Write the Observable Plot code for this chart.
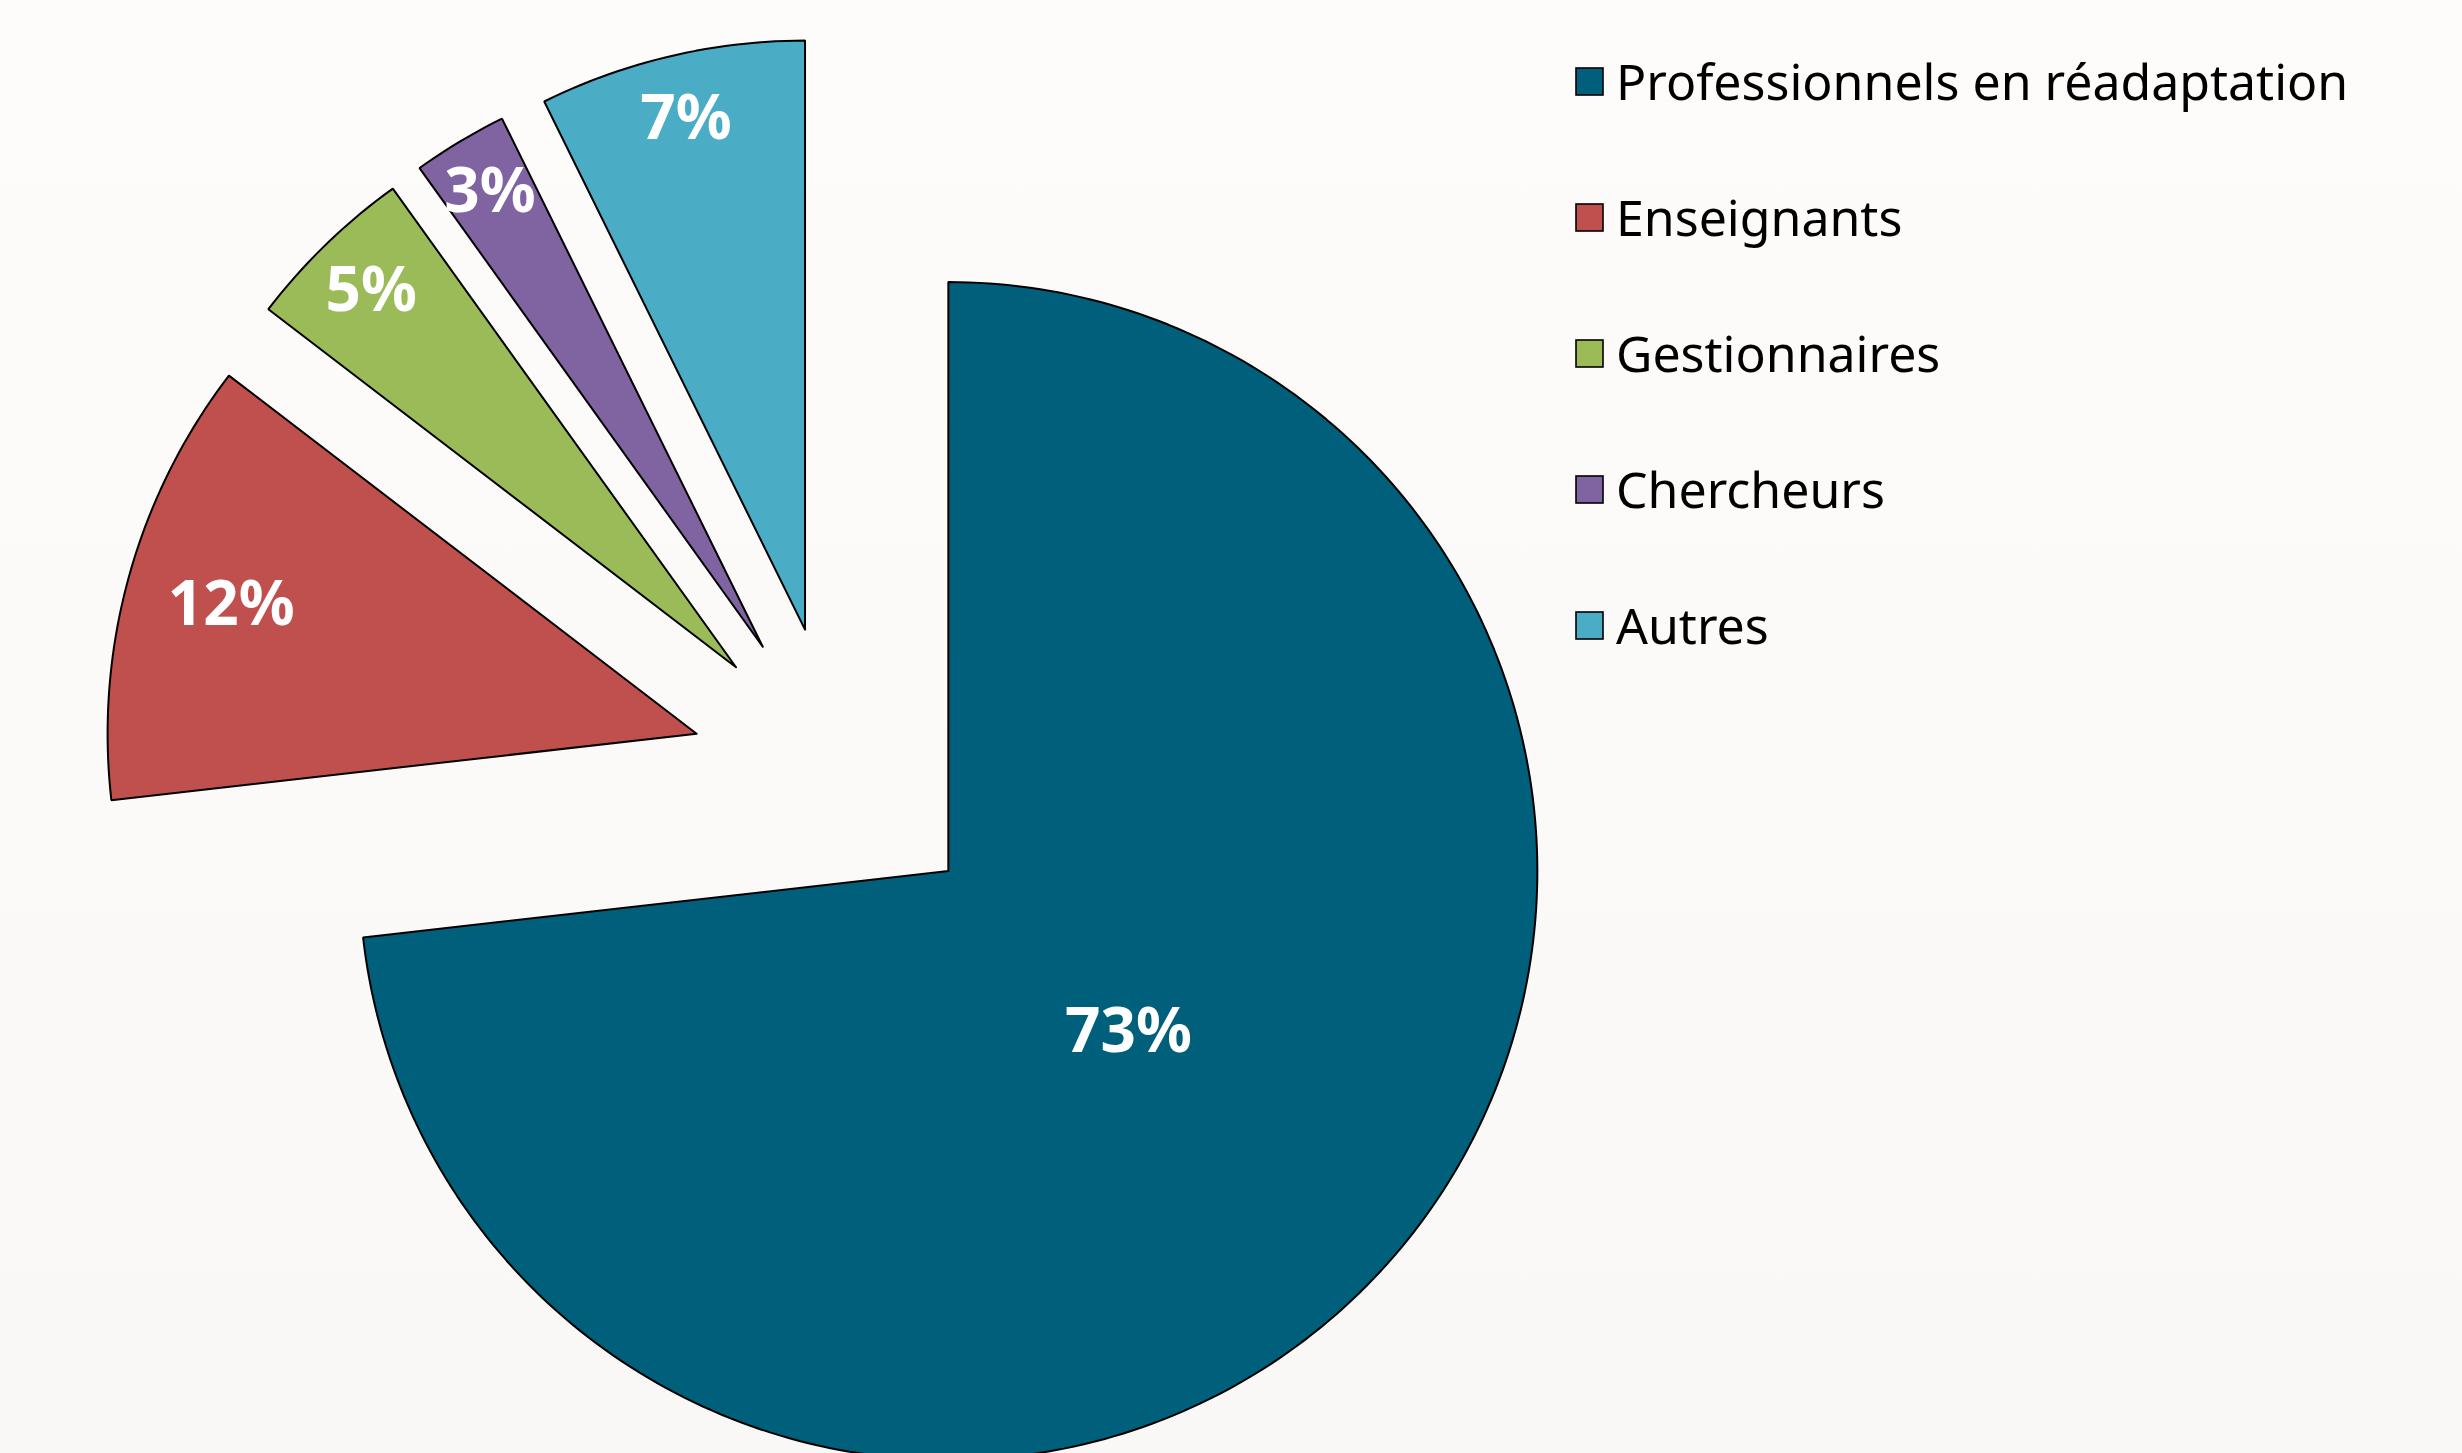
<!DOCTYPE html>
<html>
<head>
<meta charset="utf-8">
<script src="https://cdn.jsdelivr.net/npm/d3@7"></script>
<script src="https://cdn.jsdelivr.net/npm/@observablehq/plot@0.6"></script>
<style>
html, body { margin: 0; padding: 0; overflow: hidden; width: 2462px; height: 1453px; }
body { background: linear-gradient(#fdfcfb, #f9f8f6); }
#wrap { position: relative; width: 2462px; height: 1453px; }
#wrap > svg { display: block; overflow: hidden; }
#legend { position: absolute; left: 1576px; top: 13px; }
.lg-swatches { font-family: "Noto Sans", sans-serif; font-size: 50px; color: #000; margin: 0 !important; }
.lg-swatch { height: 136px; padding: 0 !important; }
.lg-swatch > svg { margin-right: 13px !important; }
.lg-swatch rect { stroke: #000; stroke-width: 1.6px; }
.lg-swatch-label { line-height: 1; overflow: visible !important; }
</style>
</head>
<body>
<div id="wrap"><div id="legend"></div></div>
<script>
// ---- data ----
const categories = ["Professionnels en réadaptation", "Enseignants", "Gestionnaires", "Chercheurs", "Autres"];
const shares = [73.2, 12.2, 4.7, 2.6, 7.3];
const colors = ["#005f7a", "#c0504d", "#9bbb59", "#8064a2", "#4bacc6"];

// ---- layout (pixels) ----
const W = 2462, H = 1453;
const R = 589, cx = 838, cy = 772.5;   // pie radius and centre
const explode = 0.25;                  // offset of each slice, in radii
const labelRadius = [0.41, 0.82, 0.89, 0.9, 0.89];

const rows = categories.map((cat, i) => ({cat, share: shares[i], i}));
const arcs = d3.pie().sort(null).value(d => d.share)(rows);

const poly = [];
const lbls = [];
const N = 360;
arcs.forEach(p => {
  const cat = p.data.cat;
  const m = (p.startAngle + p.endAngle) / 2;
  const ox = explode * Math.sin(m), oy = explode * Math.cos(m);
  poly.push({cat, x: ox, y: oy});
  const n = Math.max(4, Math.ceil((p.endAngle - p.startAngle) / (2 * Math.PI) * N));
  for (let k = 0; k <= n; k++) {
    const a = p.startAngle + (p.endAngle - p.startAngle) * k / n;
    poly.push({cat, x: ox + Math.sin(a), y: oy + Math.cos(a)});
  }
  poly.push({cat, x: ox, y: oy});
  const f = labelRadius[p.data.i];
  lbls.push({cat, text: Math.round(p.data.share) + "%", x: ox + f * Math.sin(m), y: oy + f * Math.cos(m)});
});

const color = {type: "ordinal", domain: categories, range: colors};

const chart = Plot.plot({
  width: W,
  height: H,
  margin: 0,
  style: {background: "transparent"},
  x: {domain: [-cx / R, (W - cx) / R], range: [0, W], axis: null},
  y: {domain: [-(H - cy) / R, cy / R], range: [H, 0], axis: null},
  color,
  marks: [
    Plot.line(poly, {x: "x", y: "y", z: "cat", fill: "cat", stroke: "#000", strokeWidth: 2, strokeLinejoin: "miter", curve: "linear"}),
    Plot.text(lbls, {x: "x", y: "y", text: "text", fill: "white", fontSize: 62, fontWeight: "bold", fontFamily: "Noto Sans, sans-serif"})
  ]
});
document.getElementById("wrap").prepend(chart);

const legend = Plot.legend({color, legend: "swatches", columns: 1, swatchSize: 27, className: "lg", width: 900});
document.getElementById("legend").appendChild(legend);
</script>
</body>
</html>
